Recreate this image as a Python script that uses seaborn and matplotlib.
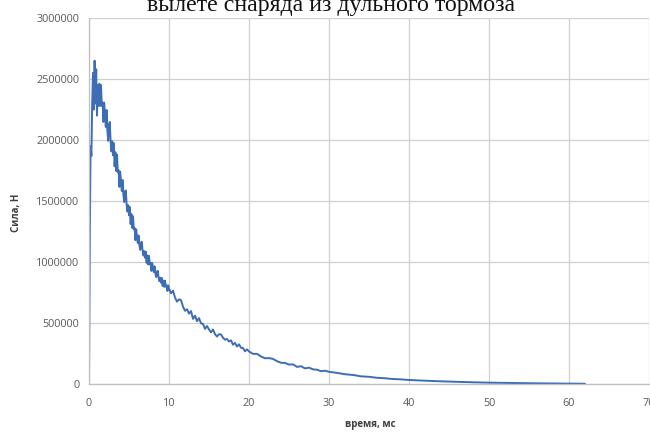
import matplotlib
matplotlib.use("Agg")
import matplotlib.pyplot as plt
import seaborn as sns
import pandas as pd

title_text = "вылете снаряда из дульного тормоза"
x_label = "время, мс"
y_label = "Сила, Н"

time_ms = [
    0.0, 0.1, 0.2, 0.3, 0.4, 0.5, 0.6, 0.7, 0.8, 0.9, 1.0, 1.1, 1.2,
    1.3, 1.4, 1.5, 1.6, 1.7, 1.8, 1.9, 2.0, 2.1, 2.2, 2.3, 2.4, 2.5, 2.6,
    2.7, 2.8, 2.9, 3.0, 3.1, 3.2, 3.3, 3.4, 3.5, 3.6, 3.7, 3.8, 3.9, 4.0,
    4.1, 4.2, 4.3, 4.4, 4.5, 4.6, 4.7, 4.8, 4.9, 5.0, 5.1, 5.2, 5.3, 5.4,
    5.5, 5.6, 5.7, 5.8, 5.9, 6.0, 6.1, 6.2, 6.3, 6.4, 6.5, 6.6, 6.7, 6.8,
    6.9, 7.0, 7.1, 7.2, 7.3, 7.4, 7.5, 7.6, 7.7, 7.8, 7.9, 8.0, 8.1, 8.2,
    8.3, 8.4, 8.5, 8.6, 8.7, 8.8, 8.9, 9.0, 9.1, 9.2, 9.3, 9.4, 9.5, 9.6,
    9.7, 9.8, 9.9, 10.0,
    10.25, 10.5, 10.75, 11.0, 11.25, 11.5, 11.75, 12.0, 12.25, 12.5, 12.75,
    13.0, 13.25, 13.5, 13.75, 14.0, 14.25, 14.5, 14.75, 15.0, 15.25, 15.5,
    15.75, 16.0, 16.25, 16.5, 16.75, 17.0, 17.25, 17.5, 17.75, 18.0, 18.25,
    18.5, 18.75, 19.0, 19.25, 19.5, 19.75, 20.0,
    20.5, 21.0, 21.5, 22.0, 22.5, 23.0, 23.5, 24.0, 24.5, 25.0, 25.5, 26.0,
    26.5, 27.0, 27.5, 28.0, 28.5, 29.0, 29.5, 30.0,
    31, 32, 33, 34, 35, 36, 37, 38, 39, 40,
    42, 44, 46, 48, 50, 52, 54, 56, 58, 60, 62,
]

force_n = [
    0, 1200000, 1950000, 1870000, 2300000, 2550000, 2250000, 2650000,
    2300000, 2580000, 2200000, 2450000, 2280000,
    2461000, 2280000, 2450000, 2280000, 2307000, 2148000, 2307000, 2211000,
    2107000, 2245000, 2075000, 1993000, 2120000, 2148000, 1989000, 1907000,
    1990000, 1875000, 1974000, 1784000, 1900000, 1746000, 1880000, 1735000,
    1752000, 1616000, 1741000, 1659000, 1582000, 1672000, 1551000, 1491000,
    1573000, 1587000, 1474000, 1414000, 1466000, 1383000, 1450000, 1311000,
    1393000, 1280000, 1375000, 1268000, 1279000, 1179000, 1268000, 1207000,
    1156000, 1217000, 1138000, 1099000, 1155000, 1166000, 1092000, 1053000,
    1089000, 1035000, 1085000, 993000, 1054000, 980000, 1050000, 981000,
    992000, 927000, 993000, 955000, 917000, 964000, 905000, 876000, 919000,
    928000, 872000, 843000, 871000, 831000, 869000, 804000, 848000, 796000,
    847000, 798000, 807000, 762000, 809000, 783000,
    743000, 765000, 709000, 675000, 694000, 688000, 634000, 600000, 613000,
    577000, 598000, 534000, 560000, 515000, 540000, 497000, 493000, 452000,
    475000, 447000, 423000, 447000, 409000, 389000, 408000, 406000, 379000,
    363000, 369000, 348000, 358000, 322000, 337000, 307000, 325000, 297000,
    295000, 268000, 284000, 267000,
    247000, 247000, 226000, 211000, 212000, 206000, 187000, 174000, 173000,
    159000, 161000, 140000, 146000, 128000, 134000, 120000, 117000, 105000,
    109000, 100000,
    91000, 80000, 74000, 63000, 59000, 51000, 47000, 41000, 38000, 33000,
    27000, 22000, 18000, 14000, 11000, 9000, 7000, 5500, 4500, 3500, 2000,
]

x_ticks = [0, 10, 20, 30, 40, 50, 60, 70]
y_ticks = [0, 500000, 1000000, 1500000, 2000000, 2500000, 3000000]
y_tick_labels = ["0", "500000", "1000000", "1500000", "2000000", "2500000", "3000000"]

df = pd.DataFrame({"t": time_ms, "F": force_n})

sns.set_style("white")
plt.rcParams["font.family"] = ["Open Sans", "DejaVu Sans"]

fig = plt.figure(figsize=(6.5, 4.32), dpi=100)
ax = fig.add_axes([89 / 650, 1 - 384 / 432, 560 / 650, 366 / 432])

sns.lineplot(data=df, x="t", y="F", ax=ax, color="#3D6DB5", linewidth=1.4,
             estimator=None, sort=False)

ax.set_xlim(0, 70)
ax.set_ylim(0, 3000000)
ax.set_xticks(x_ticks)
ax.set_xticklabels([str(v) for v in x_ticks])
ax.set_yticks(y_ticks)
ax.set_yticklabels(y_tick_labels)
ax.grid(True, color="#D0D0D0", linewidth=0.9)
ax.set_axisbelow(True)

for side in ["top", "right"]:
    ax.spines[side].set_visible(False)
for side in ["left", "bottom"]:
    ax.spines[side].set_color("#BFBFBF")
    ax.spines[side].set_linewidth(0.9)

ax.tick_params(axis="both", which="both", length=4, width=0.9, color="#BFBFBF",
               labelsize=7.8, labelcolor="#595959", direction="out")
ax.tick_params(axis="y", pad=3)
ax.tick_params(axis="x", pad=6)

ax.set_xlabel(x_label, fontsize=7, fontweight="bold", color="#404040")
ax.set_ylabel(y_label, fontsize=7, fontweight="bold", color="#404040")
ax.xaxis.set_label_coords((370 - 89) / 560, (384 - 424) / 366)
ax.yaxis.set_label_coords((17 - 89) / 560, (384 - 213) / 366)
ax.xaxis.label.set_va("center")
ax.yaxis.label.set_va("center")

fig.text(331 / 650, 1 - 11 / 432, title_text, ha="center", va="baseline",
         fontsize=17.2, family=["Liberation Serif", "DejaVu Serif"], color="#111111")

fig.savefig("out.png", dpi=100)
